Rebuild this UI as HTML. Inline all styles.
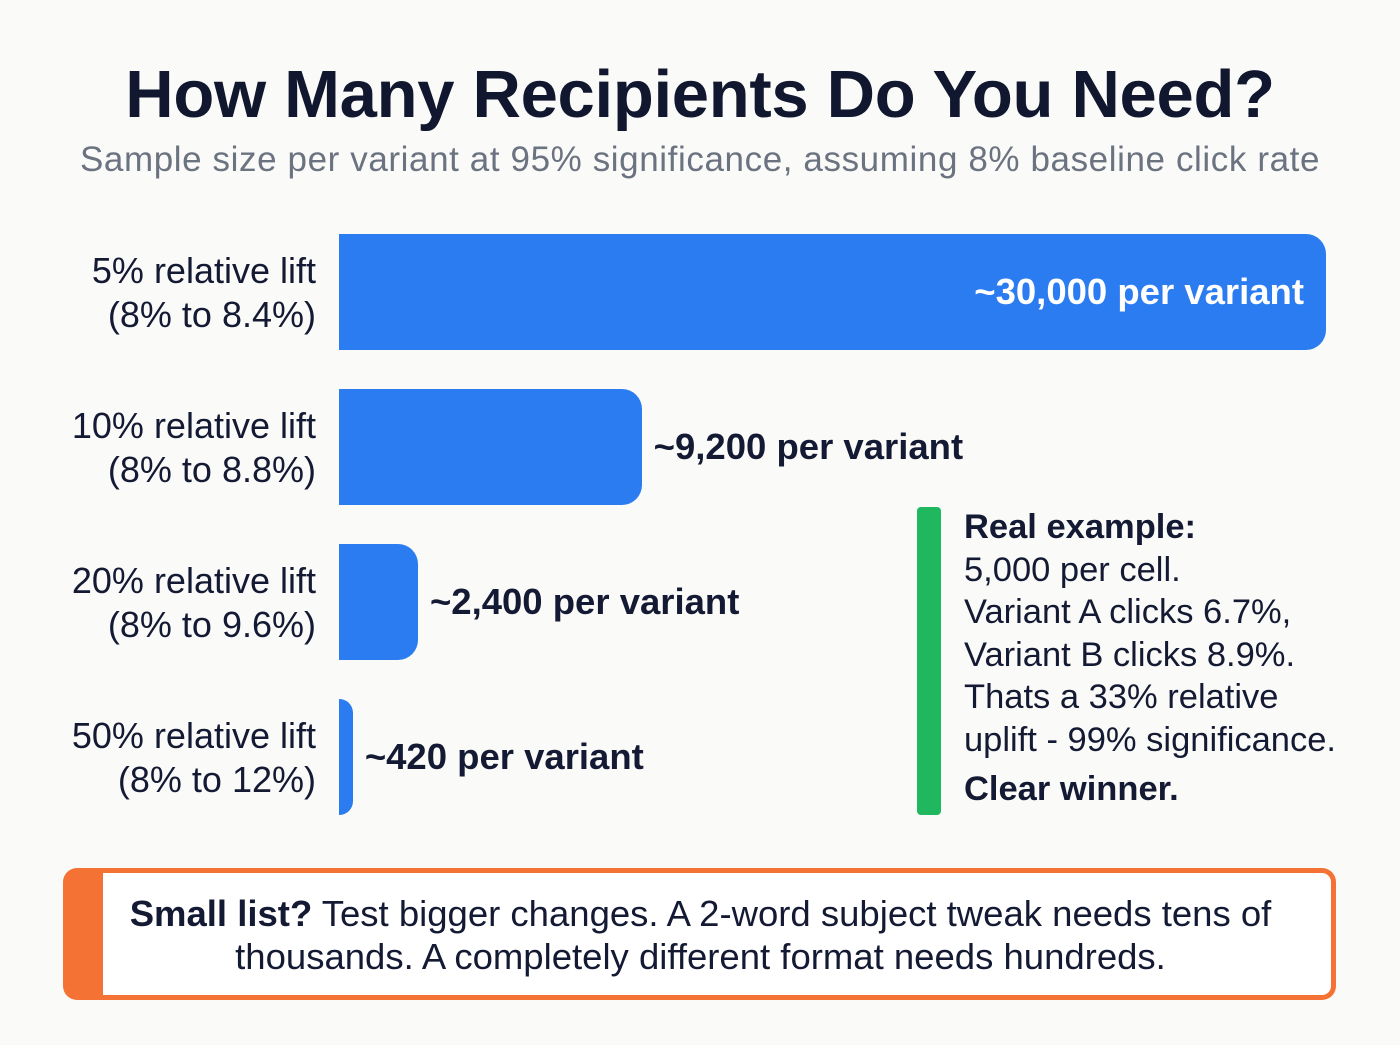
<!DOCTYPE html>
<html><head><meta charset="utf-8"><style>
html,body{margin:0;padding:0;background:#fafaf8;width:1400px;height:1045px;overflow:hidden;font-family:"Liberation Sans",sans-serif;color:#141a33}
.abs{position:absolute}
</style></head><body>
<div class="abs" style="left:0;top:56px;width:1400px;text-align:center;font-size:67px;font-weight:bold;letter-spacing:-0.3px;color:#10172e">How Many Recipients Do You Need?</div>
<div class="abs" style="left:0;top:140px;width:1400px;text-align:center;font-size:35px;letter-spacing:0.6px;color:#6b7280">Sample size per variant at 95% significance, assuming 8% baseline click rate</div>
<div id="chart"></div>

<div class="abs" style="left:917px;top:507px;width:24px;height:308px;background:#1fb85f;border-radius:4px"></div>
<div class="abs" style="left:964px;top:506px;font-size:34.5px;line-height:42.5px;color:#141a33;white-space:nowrap">
<div style="font-weight:bold">Real example:</div>
<div>5,000 per cell.</div>
<div>Variant A clicks 6.7%,</div>
<div>Variant B clicks 8.9%.</div>
<div>Thats a 33% relative</div>
<div>uplift - 99% significance.</div>
<div style="font-weight:bold;margin-top:7px">Clear winner.</div>
</div>

<div class="abs" style="left:63px;top:868px;width:1273px;height:132px;box-sizing:border-box;border:5px solid #f47334;border-left:40px solid #f47334;border-radius:14px;background:#fff"></div>
<div class="abs" style="left:83px;top:892px;width:1235px;text-align:center;font-size:36.5px;line-height:43px;color:#141a33;white-space:nowrap"><b>Small list?</b> Test bigger changes. A 2-word subject tweak needs tens of<br>thousands. A completely different format needs hundreds.</div>

<script>
const categories = ["5% relative lift", "10% relative lift", "20% relative lift", "50% relative lift"];
const subLabels = ["(8% to 8.4%)", "(8% to 8.8%)", "(8% to 9.6%)", "(8% to 12%)"];
const values = [30000, 9200, 2400, 420];
const valueLabels = ["~30,000 per variant", "~9,200 per variant", "~2,400 per variant", "~420 per variant"];

const x0 = 339, x1 = 1326, maxV = 30000;
function xScale(v){ return x0 + (x1 - x0) * v / maxV; }
function yBand(i){ return 234 + i * 155; }
const bh = 116;
const chart = document.getElementById('chart');
categories.forEach((c, i) => {
  const y = yBand(i);
  const w = xScale(values[i]) - x0;
  const bar = document.createElement('div');
  
  
  bar.className = 'abs';
  const r = Math.min(20, w);
  bar.style.cssText = `left:${x0}px;top:${y}px;width:${w}px;height:${bh}px;background:#2b7cf0;border-radius:0 ${r}px ${r}px 0`;
  chart.appendChild(bar);

  const lab = document.createElement('div');
  
  
  lab.className = 'abs';
  lab.style.cssText = `right:${1400-316}px;top:${y+15}px;text-align:right;font-size:36px;line-height:44px;color:#141a33;white-space:nowrap`;
  lab.innerHTML = c + '<br>' + subLabels[i];
  chart.appendChild(lab);

  const vl = document.createElement('div');
  
  
  vl.className = 'abs';
  const inside = w > 400;
  if (inside) {
    vl.style.cssText = `right:${1400 - xScale(values[i]) + 22}px;top:${y+37}px;font-size:36.5px;font-weight:bold;color:#fff;white-space:nowrap`;
  } else {
    vl.style.cssText = `left:${xScale(values[i]) + 12}px;top:${y+37}px;font-size:36.5px;font-weight:bold;color:#141a33;white-space:nowrap`;
  }
  vl.textContent = valueLabels[i];
  chart.appendChild(vl);
});
</script>
</body></html>
